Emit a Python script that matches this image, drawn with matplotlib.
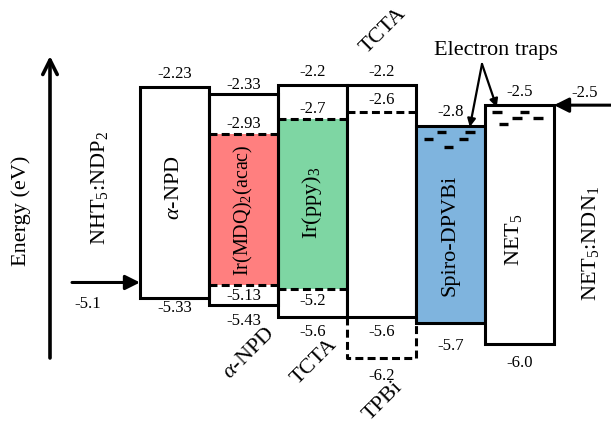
import matplotlib
matplotlib.use("Agg")
import matplotlib.pyplot as plt
from matplotlib.patches import Rectangle

plt.rcParams["font.family"] = ["Liberation Serif", "DejaVu Serif"]
plt.rcParams["mathtext.fontset"] = "custom"
plt.rcParams["mathtext.rm"] = "Liberation Serif"
plt.rcParams["mathtext.it"] = "Liberation Serif:italic"

# ---- energy levels (eV) ----
layers = [r"$\alpha$-NPD", r"Ir(MDQ)$_2$(acac)", r"Ir(ppy)$_3$", "TCTA", "Spiro-DPVBi", r"NET$_5$"]
lumo = [-2.23, -2.33, -2.2, -2.2, -2.8, -2.5]
homo = [-5.33, -5.43, -5.6, -5.6, -5.7, -6.0]
fills = ["white", "white", "white", "white", "#7fb4de", "white"]

# emitters doped into host columns 1 and 2
dopant_cols = [1, 2]
dopant_lumo = [-2.93, -2.7]
dopant_homo = [-5.13, -5.2]
dopant_colors = ["#ff7f7f", "#7ed6a3"]
host_names = [r"$\alpha$-NPD", "TCTA"]

# TPBi levels sharing column 3 with TCTA
tpbi_lumo = -2.6
tpbi_homo = -6.2

# injection layers
hil_level = -5.1
eil_level = -2.5

# electron trap levels in Spiro-DPVBi (column 4) and NET5 (column 5)
trap_spiro_e = [-2.99, -2.89, -3.11, -2.99, -2.89]
trap_spiro_x = [0.18, 0.37, 0.47, 0.69, 0.78]
trap_net_e = [-2.60, -2.78, -2.69, -2.60, -2.69]
trap_net_x = [0.17, 0.27, 0.46, 0.57, 0.77]

# ---- layout ----
W, H = 611, 425
fig = plt.figure(figsize=(W / 100, H / 100), dpi=100)
ax = fig.add_axes([0, 0, 1, 1])
COL_PX, X0_PX = 69.0, 140.0
EV_PX, E_REF, Y_REF = 68.2, -2.2, 84.7


def px2x(px):
    return (px - X0_PX) / COL_PX


def py2e(py):
    return E_REF - (py - Y_REF) / EV_PX


ax.set_xlim(px2x(0), px2x(W))
ax.set_ylim(py2e(H), py2e(0))
ax.axis("off")

LW = 2.2
DASH = (0, (2.6, 1.4))
NUM_FS = 12
LAB_FS = 16


def num(x, e, dy_px, s):
    ax.annotate(s, (x, e), xytext=(0, -dy_px * 0.72), textcoords="offset points",
                ha="center", va="center", fontsize=NUM_FS)


# dopant fills below the host outlines
for c, lo, hi, col in zip(dopant_cols, dopant_lumo, dopant_homo, dopant_colors):
    ax.add_patch(Rectangle((c, hi), 1, lo - hi, facecolor=col, edgecolor="none", zorder=1))

# layer boxes
for i, (lu, ho, fc) in enumerate(zip(lumo, homo, fills)):
    face = fc if i not in dopant_cols else "none"
    ax.add_patch(Rectangle((i, ho), 1, lu - ho, facecolor=face, edgecolor="black",
                           lw=LW, joinstyle="miter", zorder=2))

# dashed emitter levels
for c, lo, hi in zip(dopant_cols, dopant_lumo, dopant_homo):
    for e in (lo, hi):
        ax.plot([c, c + 1], [e, e], color="black", lw=LW, ls=DASH, zorder=3)

# TPBi dashed outline in column 3
ax.plot([3, 4], [tpbi_lumo, tpbi_lumo], color="black", lw=LW, ls=DASH, zorder=3)
ax.plot([3, 3, 4, 4], [homo[3], tpbi_homo, tpbi_homo, homo[3]], color="black",
        lw=LW, ls=DASH, zorder=3)

# trap states
for col, xs, es in ((4, trap_spiro_x, trap_spiro_e), (5, trap_net_x, trap_net_e)):
    for fx, e in zip(xs, es):
        ax.plot([col + fx - 0.07, col + fx + 0.07], [e, e], color="black", lw=2.4,
                solid_capstyle="butt", zorder=4)

# energy values
num(0.5, lumo[0], -13, "-2.23")
num(0.5, homo[0], 10, "-5.33")
num(1.5, lumo[1], -9, "-2.33")
num(1.5, dopant_lumo[0], -10, "-2.93")
num(1.5, dopant_homo[0], 11, "-5.13")
num(1.5, homo[1], 16, "-5.43")
num(2.5, lumo[2], -13, "-2.2")
num(2.5, dopant_lumo[1], -10, "-2.7")
num(2.5, dopant_homo[1], 12, "-5.2")
num(2.5, homo[2], 15, "-5.6")
num(3.5, lumo[3], -13, "-2.2")
num(3.5, tpbi_lumo, -12, "-2.6")
num(3.5, homo[3], 15, "-5.6")
num(3.5, tpbi_homo, 18, "-6.2")
num(4.5, lumo[4], -14, "-2.8")
num(4.5, homo[4], 23, "-5.7")
num(5.5, lumo[5], -13, "-2.5")
num(5.5, homo[5], 19, "-6.0")
num(px2x(88), hil_level, 22, "-5.1")
num(px2x(585), eil_level, -12, "-2.5")

# layer names inside boxes
name_y = [py2e(188), py2e(210), py2e(203), None, py2e(235), py2e(240)]
name_dx = [0, 0, 0, 0, 0, -0.08]
name_fs = [LAB_FS, 14.5, LAB_FS, LAB_FS, LAB_FS, LAB_FS]
for i, (nm, y) in enumerate(zip(layers, name_y)):
    if y is None:
        continue
    ax.text(i + 0.5 + name_dx[i], y, nm, rotation=90, ha="center", va="center",
            fontsize=name_fs[i])

# host / blocker names at 45 degrees
ax.text(px2x(249), py2e(354), host_names[0], rotation=45, ha="center", va="center",
        fontsize=LAB_FS, rotation_mode="anchor")
ax.text(px2x(314), py2e(362), host_names[1], rotation=45, ha="center", va="center",
        fontsize=LAB_FS, rotation_mode="anchor")
ax.text(px2x(383), py2e(401), "TPBi", rotation=45, ha="center", va="center",
        fontsize=LAB_FS, rotation_mode="anchor")
ax.text(px2x(383), py2e(31), "TCTA", rotation=45, ha="center", va="center",
        fontsize=LAB_FS, rotation_mode="anchor")

# injection layers
ax.text(px2x(100), py2e(188), r"NHT$_5$:NDP$_2$", rotation=90, ha="center",
        va="center", fontsize=LAB_FS)
ax.text(px2x(591), py2e(243), r"NET$_5$:NDN$_1$", rotation=90, ha="center",
        va="center", fontsize=LAB_FS)
ax.annotate("", xy=(0, hil_level), xytext=(px2x(72), hil_level),
            arrowprops=dict(arrowstyle="-|>", lw=LW, color="black", mutation_scale=22,
                            shrinkA=0, shrinkB=0), zorder=5)
ax.annotate("", xy=(6, eil_level), xytext=(px2x(W + 5), eil_level),
            arrowprops=dict(arrowstyle="-|>", lw=LW, color="black", mutation_scale=22,
                            shrinkA=0, shrinkB=0), zorder=5)

# energy axis
ax.annotate("", xy=(px2x(50), py2e(56)), xytext=(px2x(50), py2e(358)),
            arrowprops=dict(arrowstyle="->", lw=LW + 0.4, color="black",
                            mutation_scale=26, shrinkA=0, shrinkB=0))
ax.text(px2x(21), py2e(211), "Energy (eV)", rotation=90, ha="center", va="center",
        fontsize=LAB_FS)

# electron trap callout
src = (px2x(482), py2e(64))
ax.text(px2x(496), py2e(51), "Electron traps", ha="center", va="center", fontsize=LAB_FS)
ax.annotate("", xy=(4 + trap_spiro_x[4], trap_spiro_e[4] + 0.07), xytext=src,
            arrowprops=dict(arrowstyle="-|>", lw=1.6, color="black", mutation_scale=12,
                            shrinkA=0, shrinkB=0))
ax.annotate("", xy=(5 + trap_net_x[0], trap_net_e[0] + 0.07), xytext=src,
            arrowprops=dict(arrowstyle="-|>", lw=1.6, color="black", mutation_scale=12,
                            shrinkA=0, shrinkB=0))

fig.savefig("out.png", dpi=100)
